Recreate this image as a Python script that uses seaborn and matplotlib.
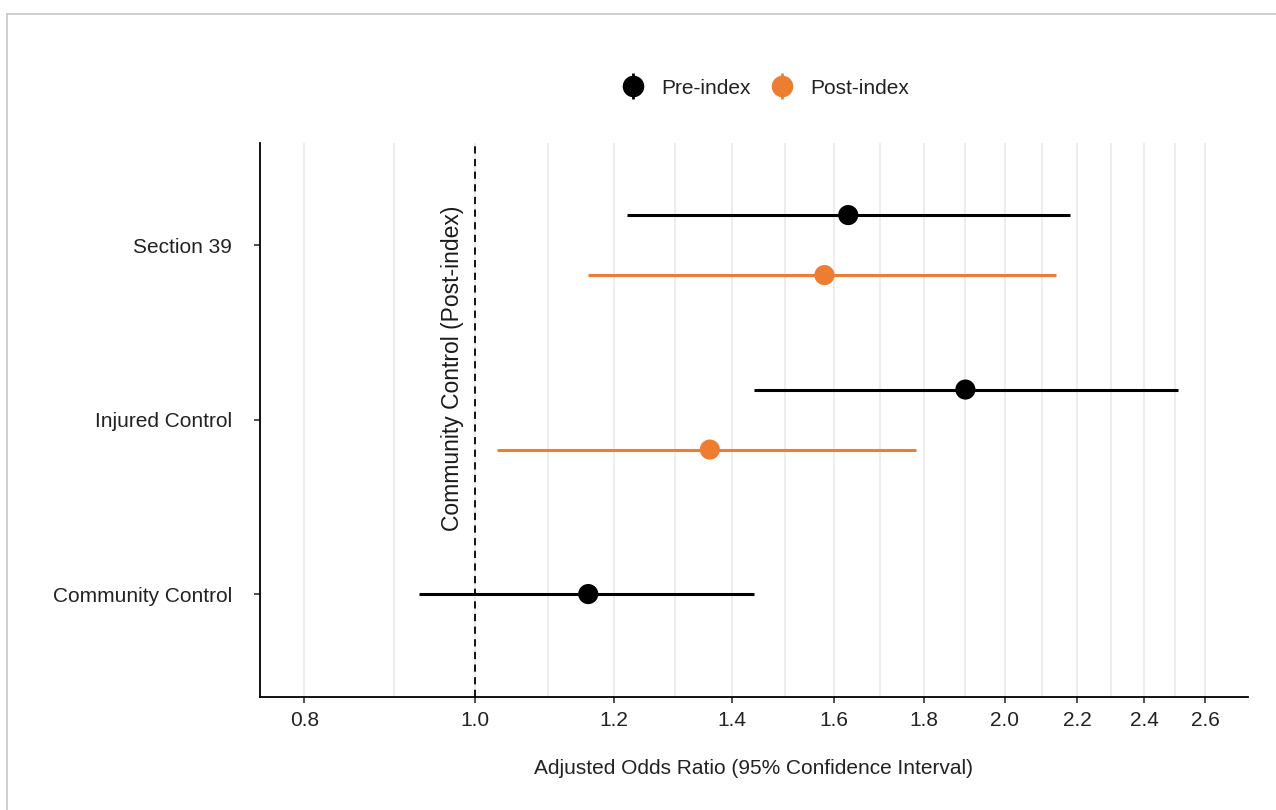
import matplotlib
matplotlib.use("Agg")
import matplotlib.pyplot as plt
from matplotlib.lines import Line2D
from matplotlib.ticker import FixedLocator, NullFormatter
import seaborn as sns
import pandas as pd

# values
groups = ["Section 39", "Section 39", "Injured Control", "Injured Control", "Community Control"]
periods = ["Pre-index", "Post-index", "Pre-index", "Post-index", "Pre-index"]
aor = [1.63, 1.58, 1.90, 1.36, 1.16]
ci_low = [1.22, 1.16, 1.44, 1.03, 0.93]
ci_high = [2.18, 2.14, 2.51, 1.78, 1.44]

group_order = ["Community Control", "Injured Control", "Section 39"]  # bottom to top
period_order = ["Pre-index", "Post-index"]
colors = {"Pre-index": "#000000", "Post-index": "#ED7D31"}
major_ticks = [0.8, 1.0, 1.2, 1.4, 1.6, 1.8, 2.0, 2.2, 2.4, 2.6]
minor_ticks = [0.9, 1.1, 1.3, 1.5, 1.7, 1.9, 2.1, 2.3, 2.5]

dfrm = pd.DataFrame({"group": groups, "period": periods, "aor": aor,
                     "lo": ci_low, "hi": ci_high})
# dodge like ggplot: only groups with two periods are split
dodge = 0.172
ypos = []
for _, row in dfrm.iterrows():
    base = group_order.index(row["group"])
    n = (dfrm["group"] == row["group"]).sum()
    off = 0.0 if n == 1 else (dodge if row["period"] == "Pre-index" else -dodge)
    ypos.append(base + off)
dfrm["y"] = ypos

sns.set_theme(style="white")
plt.rcParams["font.family"] = ["Liberation Sans", "DejaVu Sans"]

fig = plt.figure(figsize=(12.76, 8.10), dpi=100)
ax = fig.add_axes([260 / 1276, 1 - 697 / 810, (1248 - 260) / 1276, (697 - 143) / 810])

ax.set_xscale("log")
ax.set_xlim(0.755, 2.75)
ax.set_ylim(-0.59, 2.585)

# grid
for xv in major_ticks + minor_ticks:
    ax.axvline(xv, color="#E8E8E8", lw=1.1, zorder=0)

for _, row in dfrm.iterrows():
    ax.hlines(row["y"], row["lo"], row["hi"], color=colors[row["period"]], lw=2.2, zorder=2)
sns.scatterplot(data=dfrm, x="aor", y="y", hue="period", hue_order=period_order,
                palette=colors, s=210, edgecolor="none", legend=False, ax=ax, zorder=3)

ax.axvline(1.0, color="black", ls=(0, (4, 3)), lw=1.3, zorder=1)
ax.annotate("Community Control (Post-index)", xy=(1.0, 1.295), xycoords="data",
            xytext=(-16, 0), textcoords="offset points", rotation=90,
            ha="center", va="center", fontsize=16.5, color="#1a1a1a")

ax.xaxis.set_major_locator(FixedLocator(major_ticks))
ax.set_xticklabels([f"{t:.1f}" for t in major_ticks])
ax.xaxis.set_minor_locator(FixedLocator(minor_ticks))
ax.xaxis.set_minor_formatter(NullFormatter())
ax.set_yticks(range(len(group_order)))
ax.set_yticklabels(group_order)
ax.tick_params(axis="x", which="major", length=4, width=1.2, color="#333333",
               labelsize=15, labelcolor="#222222", pad=6, bottom=True)
ax.tick_params(axis="x", which="minor", length=0)
ax.tick_params(axis="y", length=4, width=1.2, color="#333333", labelsize=15,
               labelcolor="#222222", pad=16, left=True)

for side in ["top", "right"]:
    ax.spines[side].set_visible(False)
for side in ["left", "bottom"]:
    ax.spines[side].set_color("black")
    ax.spines[side].set_linewidth(1.3)

ax.set_xlabel("Adjusted Odds Ratio (95% Confidence Interval)", fontsize=15,
              color="#222222", labelpad=21)
ax.set_ylabel("")

# legend: point with a short vertical range line
handles = []
for p in period_order:
    bar = Line2D([], [], color=colors[p], marker="|", markersize=19, markeredgewidth=2, ls="none")
    dot = Line2D([], [], color=colors[p], marker="o", markersize=14.5, ls="none")
    handles.append((bar, dot))
fig.legend(handles, period_order, loc="center", bbox_to_anchor=(0.5995, 1 - 88 / 810),
           ncol=2, frameon=False, fontsize=15, handletextpad=0.75, columnspacing=0.9,
           handlelength=1.2, labelcolor="#222222")

# screenshot-like frame on top and left
fig.add_artist(Line2D([7 / 1276, 1], [1 - 14 / 810, 1 - 14 / 810], color="#C8C8C8", lw=1.2,
                      transform=fig.transFigure))
fig.add_artist(Line2D([7 / 1276, 7 / 1276], [0, 1 - 14 / 810], color="#C8C8C8", lw=1.2,
                      transform=fig.transFigure))

fig.savefig("out.png", dpi=100)
